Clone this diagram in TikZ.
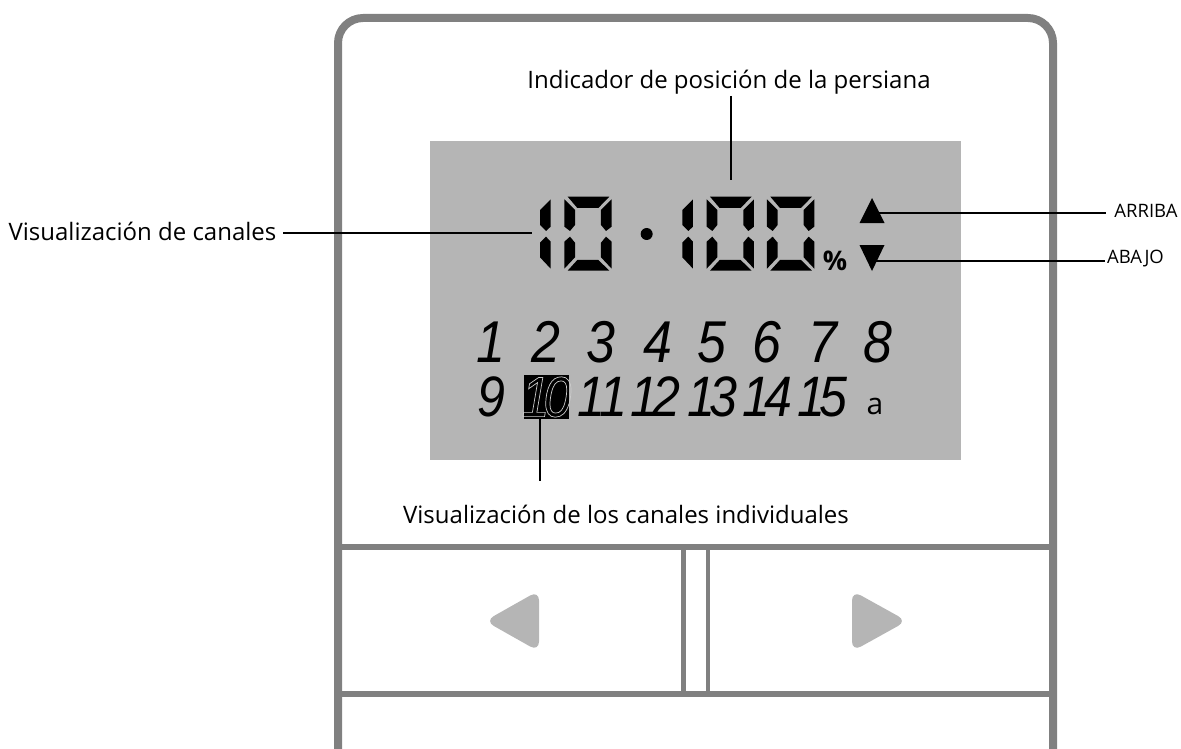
\documentclass[tikz,border=0pt]{standalone}
\usepackage{fontspec}
\setmainfont{Open Sans}
\newfontfamily\digfont[FakeStretch=0.88]{Liberation Sans Italic}
\definecolor{frameg}{HTML}{808080}
\definecolor{lcdg}{HTML}{B5B5B5}
\newcommand{\sevenone}[1]{%
 \begin{scope}[shift={(#1,0)}]
 \fill[seg] (32,58)--(0,90)--(0,135)--(18,153)--(32,140)--cycle;
 \fill[seg] (18,170)--(0,188)--(0,232)--(32,266)--(32,185)--cycle;
 \end{scope}}
\newcommand{\sevenzero}[1]{%
 \begin{scope}[shift={(#1,0)}]
 \fill[seg] (10,50)--(135,50)--(102,84)--(39,84)--cycle;
 \fill[seg] (0,58)--(32,90)--(32,135)--(17,153)--(0,140)--cycle;
 \fill[seg] (142,58)--(110,90)--(110,135)--(125,153)--(142,140)--cycle;
 \fill[seg] (17,170)--(0,185)--(0,266)--(32,232)--(32,188)--cycle;
 \fill[seg] (125,170)--(142,185)--(142,266)--(110,232)--(110,188)--cycle;
 \fill[seg] (39,240)--(102,240)--(135,272)--(10,272)--cycle;
 \end{scope}}
\tikzset{
 seg/.style={fill=black},
 frameline/.style={draw=frameg,line width=8pt},
 panelline/.style={draw=frameg,line width=6pt},
 thinline/.style={draw=frameg,line width=4.5pt},
 leader/.style={draw=black,line width=2.6pt},
 lab/.style={inner sep=0pt,font=\fontsize{24}{26}\selectfont},
 smalllab/.style={inner sep=0pt,font=\fontsize{18.5}{20}\selectfont},
 numa/.style={inner sep=0pt,font=\digfont\fontsize{59}{60}\selectfont},
 numb/.style={inner sep=0pt,font=\digfont\fontsize{57}{60}\selectfont},
 softarrow/.style={fill=lcdg,rounded corners=10pt},
}
\begin{document}
\begin{tikzpicture}[x=1pt,y=-1pt]
\useasboundingbox (0,0) rectangle (1181,749);
% housing
\draw[frameline,rounded corners=25pt] (338,749) -- (338,18) -- (1053,18) -- (1053,749);
\fill[lcdg] (430,141) rectangle (961,460);
% keys
\draw[panelline] (338,547) -- (1053,547);
\draw[panelline] (338,694) -- (1053,694);
\draw[thinline] (683.5,547) -- (683.5,694);
\draw[thinline] (708,547) -- (708,694);
\fill[softarrow] (485,621) -- (539,590.5) -- (539,651.5) -- cycle;
\fill[softarrow] (907,621) -- (852,590.5) -- (852,651.5) -- cycle;
% seven-segment readout
\begin{scope}[shift={(520,180)},x=0.3333pt,y=-0.3333pt]
\sevenone{60}\sevenzero{133}
\fill (380,162) circle[radius=18];
\sevenone{487}\sevenzero{560}\sevenzero{741}
\end{scope}
\node[inner sep=0pt,font=\bfseries\fontsize{27}{28}\selectfont] (pct) at (835,261) {\%};
% direction triangles
\fill (872,198) -- (884.5,223) -- (859.5,223) -- cycle;
\fill (859.5,245) -- (884.5,245) -- (872,271) -- cycle;
% channel numbers
\foreach \t/\x in {1/490.5,2/546,3/601,4/657.5,5/712,6/767,7/823,8/878}
  \node[numa] (r\t) at (\x,342) {\t};
\node[numb] (r9) at (491,397) {9};
\fill (524,375) rectangle (569,419);
\node[numb,text=black] (r10) at (546.5,397) {\special{pdf:code q 1 Tr 0.7 w 0.8 G}1\kern-6pt 0\special{pdf:code Q}};
\node[numb] (r11) at (602,397) {1\kern-6pt 1};
\node[numb] (r12) at (655,397) {1\kern-6pt 2};
\node[numb] (r13) at (712,397) {1\kern-6pt 3};
\node[numb] (r14) at (767.5,397) {1\kern-6pt 4};
\node[numb] (r15) at (822.5,397) {1\kern-6pt 5};
\node[inner sep=0pt,font=\fontsize{30}{30}\selectfont] (ra) at (875,406) {a};
% labels
\node[lab] (pos) at (729,82) {Indicador de posición de la persiana};
\node[lab] (chan) at (142.5,231) {Visualización de canales};
\node[lab] (indiv) at (626,514) {Visualización de los canales individuales};
\node[smalllab] (up) at (1146,211) {ARRIBA};
\node[smalllab] (down) at (1135.5,259) {ABAJO};
% leaders
\coordinate (posend) at (731,180);
\coordinate (chanend) at (532,233);
\coordinate (upend) at (878,213);
\coordinate (downend) at (875,261);
\draw[leader] (731,96) -- (posend);
\draw[leader] (283,233) -- (chanend);
\draw[leader] (540,419) -- (540,481);
\draw[leader] (upend) -- (1106,213);
\draw[leader] (downend) -- (1105,261);
\end{tikzpicture}
\end{document}
